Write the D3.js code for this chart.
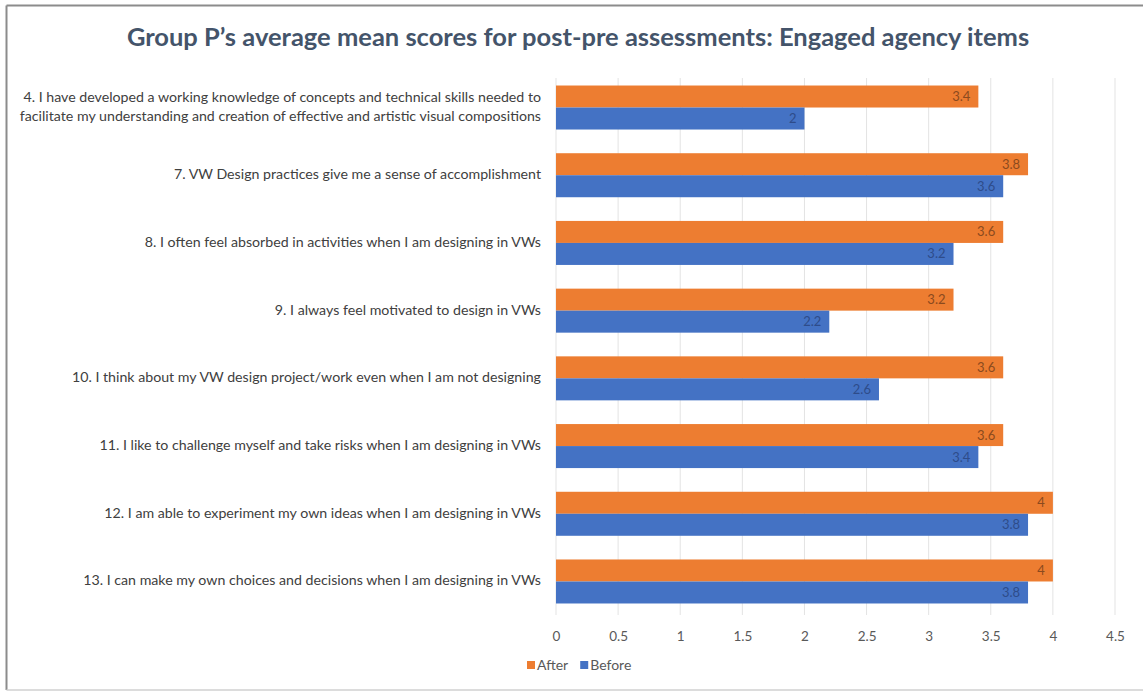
<!DOCTYPE html>
<html>
<head>
<meta charset="utf-8">
<script src="https://cdn.jsdelivr.net/npm/d3@7"></script>
<style>
  html, body { margin: 0; padding: 0; background: #fff; }
  svg { display: block; }
</style>
</head>
<body>
<svg id="chart" width="1143" height="693"></svg>
<script>
// Survey items (top to bottom)
const categories = [
  ["4. I have developed a working knowledge of concepts and technical skills needed to",
   "facilitate my understanding and creation of effective and artistic visual compositions"],
  ["7. VW Design practices give me a sense of accomplishment"],
  ["8. I often feel absorbed in activities when I am designing in VWs"],
  ["9. I always feel motivated to design in VWs"],
  ["10. I think about my VW design project/work even when I am not designing"],
  ["11. I like to challenge myself and take risks when I am designing in VWs"],
  ["12. I am able to experiment my own ideas when I am designing in VWs"],
  ["13. I can make my own choices and decisions when I am designing in VWs"]
];
const afterValues  = [3.4, 3.8, 3.6, 3.2, 3.6, 3.6, 4, 4];
const beforeValues = [2, 3.6, 3.2, 2.2, 2.6, 3.4, 3.8, 3.8];
const seriesNames = ["After", "Before"];
const tickValues = [0, 0.5, 1, 1.5, 2, 2.5, 3, 3.5, 4, 4.5];

const colors = { After: "#ED7D31", Before: "#4472C4" };
const labelColors = { After: "#8B4A1E", Before: "#2E4C8A" };
const font = "Lato, 'Open Sans', sans-serif";

const svg = d3.select("#chart");
const W = 1143, H = 693;

// outer frame: darker top/left edges, light bottom edge
svg.append("line").attr("x1", 6.5).attr("x2", W).attr("y1", 5.5).attr("y2", 5.5)
  .attr("stroke", "#8c8c8c").attr("stroke-width", 2);
svg.append("line").attr("x1", 6.5).attr("x2", 6.5).attr("y1", 5.5).attr("y2", 690)
  .attr("stroke", "#8c8c8c").attr("stroke-width", 2);
svg.append("line").attr("x1", 6.5).attr("x2", W).attr("y1", 690).attr("y2", 690)
  .attr("stroke", "#d0d0d0").attr("stroke-width", 1.5);

// title
svg.append("text")
  .attr("x", 578).attr("y", 46)
  .attr("text-anchor", "middle")
  .attr("font-family", font)
  .attr("font-weight", "bold")
  .attr("font-size", 25.5)
  .attr("fill", "#44546A")
  .text("Group P\u2019s average mean scores for post-pre assessments: Engaged agency items");

const plot = { left: 556, right: 1115, top: 74, bottom: 615 };

const x = d3.scaleLinear().domain([0, 4.5]).range([plot.left, plot.right]);
const y = d3.scaleBand().domain(d3.range(categories.length))
  .range([plot.top, plot.bottom]).paddingInner(0.35).paddingOuter(0.17);
const ySub = d3.scaleBand().domain(seriesNames).range([0, y.bandwidth()]);

// gridlines
svg.append("g").selectAll("line").data(tickValues).join("line")
  .attr("x1", d => x(d)).attr("x2", d => x(d))
  .attr("y1", plot.top + 4).attr("y2", plot.bottom)
  .attr("stroke", "#e3e3e3").attr("stroke-width", 1);

// x axis tick labels
const xAxis = d3.axisBottom(x).tickValues(tickValues).tickSize(0).tickPadding(0)
  .tickFormat(d3.format("~g"));
const gx = svg.append("g").attr("transform", `translate(0,${plot.bottom + 16})`).call(xAxis);
gx.select(".domain").remove();
gx.selectAll("text")
  .attr("font-family", font)
  .attr("font-size", 13.5).attr("fill", "#595959");

// category labels
const catG = svg.append("g");
categories.forEach((lines, i) => {
  const cy = y(i) + y.bandwidth() / 2;
  const lh = 19;
  const t = catG.append("text")
    .attr("text-anchor", "end")
    .attr("font-family", font)
    .attr("font-size", 14.2)
    .attr("fill", "#404040");
  lines.forEach((ln, j) => {
    t.append("tspan")
      .attr("x", 541)
      .attr("y", cy + (j - (lines.length - 1) / 2) * lh + 4)
      .text(ln);
  });
});

// bars
const rows = categories.map((c, i) => ({ i, After: afterValues[i], Before: beforeValues[i] }));
const groups = svg.append("g").selectAll("g").data(rows).join("g")
  .attr("transform", d => `translate(0,${y(d.i)})`);

seriesNames.forEach(s => {
  groups.append("rect")
    .attr("x", x(0))
    .attr("y", ySub(s))
    .attr("width", d => x(d[s]) - x(0))
    .attr("height", ySub.bandwidth())
    .attr("fill", colors[s]);
  groups.append("text")
    .attr("x", d => x(d[s]) - 8)
    .attr("y", ySub(s) + ySub.bandwidth() / 2 + 4.5)
    .attr("text-anchor", "end")
    .attr("font-family", font)
    .attr("font-size", 13)
    .attr("fill", labelColors[s])
    .text(d => d3.format("~g")(d[s]));
});

// legend
const legend = svg.append("g").attr("transform", "translate(527,665)");
let lx = 0;
seriesNames.forEach(s => {
  const g = legend.append("g").attr("transform", `translate(${lx},0)`);
  g.append("rect").attr("x", 0).attr("y", -4).attr("width", 8).attr("height", 8).attr("fill", colors[s]);
  const t = g.append("text").attr("x", 10).attr("y", 5)
    .attr("font-family", font)
    .attr("font-size", 14).attr("fill", "#595959").text(s);
  lx += 10 + t.node().getComputedTextLength() + 12;
});
</script>
</body>
</html>
